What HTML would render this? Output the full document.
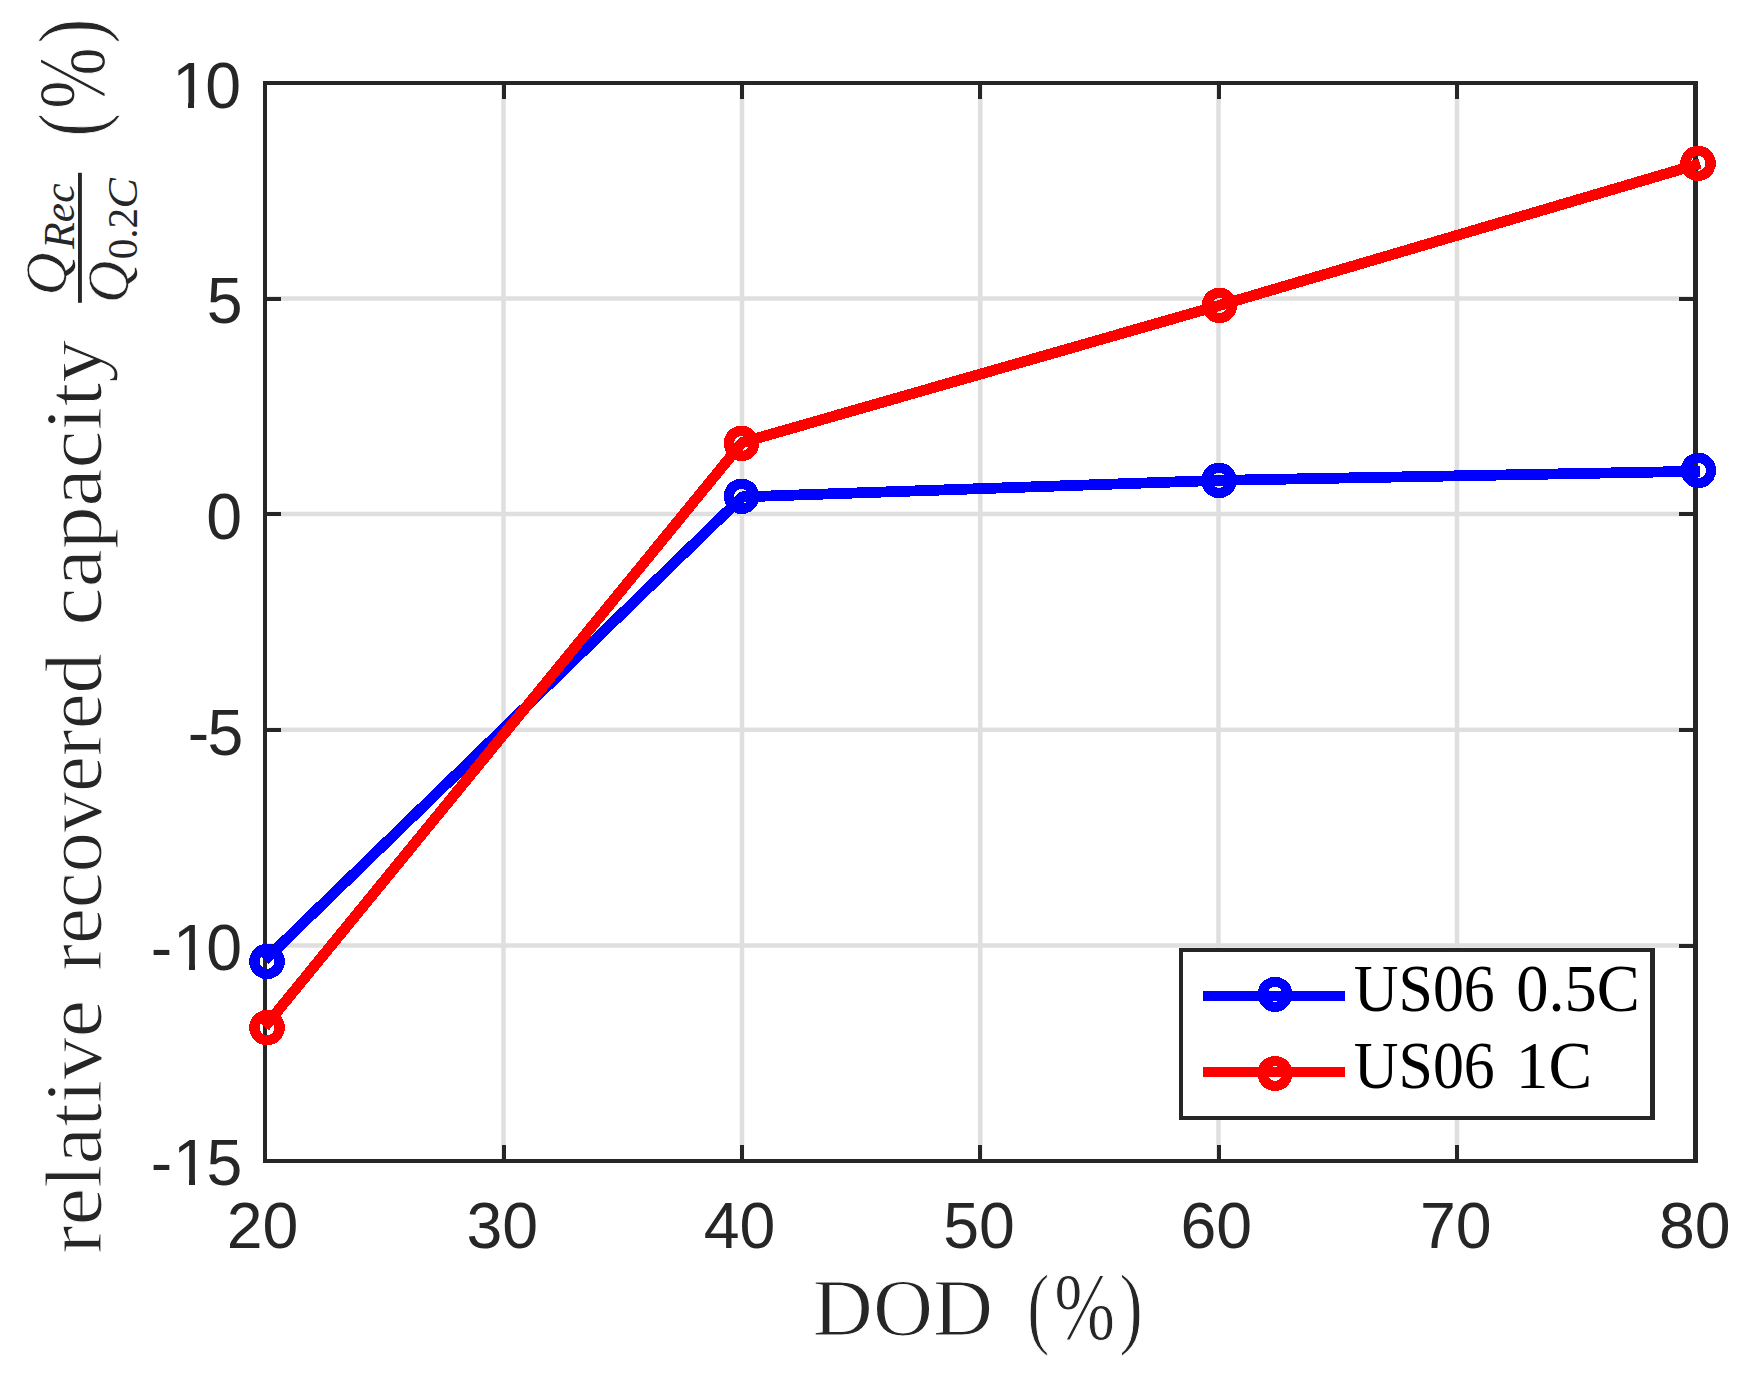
<!DOCTYPE html>
<html lang="en">
<head>
<meta charset="utf-8">
<title>relative recovered capacity vs DOD</title>
<style>
html,body{margin:0;padding:0;background:#fff;}
body{width:1743px;height:1373px;overflow:hidden;}
svg{display:block;}
.tick{font-family:"Liberation Sans",sans-serif;font-size:64.4px;fill:#262626;}
.ser{font-family:"Liberation Serif",serif;fill:#262626;stroke:#ffffff;stroke-width:1.1px;}
.q{stroke-width:0.6px;}
.sub{stroke:none;}
.leg{font-family:"Liberation Serif",serif;fill:#000;}
</style>
</head>
<body>
<svg width="1743" height="1373" viewBox="0 0 1743 1373">
<rect x="0" y="0" width="1743" height="1373" fill="#ffffff"/>
<!-- grid -->
<g fill="#dfdfdf">
<rect x="501.25" y="85" width="4.5" height="1074"/>
<rect x="739.75" y="85" width="4.5" height="1074"/>
<rect x="978.05" y="85" width="4.5" height="1074"/>
<rect x="1216.25" y="85" width="4.5" height="1074"/>
<rect x="1454.75" y="85" width="4.5" height="1074"/>
<rect x="267" y="296.25" width="1426" height="4.5"/>
<rect x="267" y="511.75" width="1426" height="4.5"/>
<rect x="267" y="727.55" width="1426" height="4.5"/>
<rect x="267" y="943.25" width="1426" height="4.5"/>
</g>
<!-- ticks and axes box -->
<g fill="#262626" shape-rendering="crispEdges">
<rect x="501.5" y="1145" width="4" height="14"/><rect x="501.5" y="85" width="4" height="14"/>
<rect x="740.0" y="1145" width="4" height="14"/><rect x="740.0" y="85" width="4" height="14"/>
<rect x="978.3" y="1145" width="4" height="14"/><rect x="978.3" y="85" width="4" height="14"/>
<rect x="1216.5" y="1145" width="4" height="14"/><rect x="1216.5" y="85" width="4" height="14"/>
<rect x="1455.0" y="1145" width="4" height="14"/><rect x="1455.0" y="85" width="4" height="14"/>
<rect x="267" y="296.5" width="14" height="4"/><rect x="1679" y="296.5" width="14" height="4"/>
<rect x="267" y="512.0" width="14" height="4"/><rect x="1679" y="512.0" width="14" height="4"/>
<rect x="267" y="727.8" width="14" height="4"/><rect x="1679" y="727.8" width="14" height="4"/>
<rect x="267" y="943.5" width="14" height="4"/><rect x="1679" y="943.5" width="14" height="4"/>
<rect x="263" y="81" width="4" height="1082"/>
<rect x="1693" y="81" width="5" height="1082"/>
<rect x="263" y="81" width="1435" height="4"/>
<rect x="263" y="1159" width="1435" height="4"/>
</g>
<!-- y tick labels -->
<g class="tick" text-anchor="start">
<text y="108.0"><tspan x="172.20">1</tspan><tspan x="205.35">0</tspan></text>
<text y="323.3"><tspan x="206.65">5</tspan></text>
<text y="539.2"><tspan x="206.35">0</tspan></text>
<text y="755.0"><tspan x="187.65">-</tspan><tspan x="207.45">5</tspan></text>
<text y="970.3"><tspan x="150.85">-</tspan><tspan x="173.00">1</tspan><tspan x="206.25">0</tspan></text>
<text y="1185.3"><tspan x="150.85">-</tspan><tspan x="173.00">1</tspan><tspan x="206.55">5</tspan></text>
</g>
<!-- trim the base serif of the Liberation Sans "1" to match the plain Helvetica-style "1" -->
<g fill="#ffffff">
<rect x="175.5" y="102.5" width="12.5" height="6.5"/><rect x="194" y="102.5" width="12.5" height="6.5"/>
<rect x="176.5" y="964.5" width="12.5" height="6.5"/><rect x="195" y="964.5" width="12.5" height="6.5"/>
<rect x="176.5" y="1179.5" width="12.5" height="6.5"/><rect x="195" y="1179.5" width="12.5" height="6.5"/>
</g>
<!-- x tick labels -->
<g class="tick" text-anchor="middle">
<text x="262.5" y="1248.3">20</text>
<text x="502.2" y="1248.3">30</text>
<text x="739.6" y="1248.3">40</text>
<text x="979.1" y="1248.3">50</text>
<text x="1216.2" y="1248.3">60</text>
<text x="1455.7" y="1248.3">70</text>
<text x="1694.7" y="1248.3">80</text>
</g>
<!-- data series -->
<g stroke="#0000ff" stroke-width="10.2" fill="none" shape-rendering="crispEdges" stroke-linejoin="round">
<polyline points="264.6,960.4 742.2,496.9 1219,480.4 1700,471.2" stroke-width="10.8"/>
<polygon points="279.50,963.89 277.60,968.48 274.08,972.00 269.49,973.90 264.51,973.90 259.92,972.00 256.40,968.48 254.50,963.89 254.50,958.91 256.40,954.32 259.92,950.80 264.51,948.90 269.49,948.90 274.08,950.80 277.60,954.32 279.50,958.91"/>
<polygon points="754.00,498.79 752.10,503.38 748.58,506.90 743.99,508.80 739.01,508.80 734.42,506.90 730.90,503.38 729.00,498.79 729.00,493.81 730.90,489.22 734.42,485.70 739.01,483.80 743.99,483.80 748.58,485.70 752.10,489.22 754.00,493.81"/>
<polygon points="1231.50,482.89 1229.60,487.48 1226.08,491.00 1221.49,492.90 1216.51,492.90 1211.92,491.00 1208.40,487.48 1206.50,482.89 1206.50,477.91 1208.40,473.32 1211.92,469.80 1216.51,467.90 1221.49,467.90 1226.08,469.80 1229.60,473.32 1231.50,477.91"/>
<polygon points="1710.90,472.89 1709.00,477.48 1705.48,481.00 1700.89,482.90 1695.91,482.90 1691.32,481.00 1687.80,477.48 1685.90,472.89 1685.90,467.91 1687.80,463.32 1691.32,459.80 1695.91,457.90 1700.89,457.90 1705.48,459.80 1709.00,463.32 1710.90,467.91"/>
</g>
<g stroke="#ff0000" stroke-width="10.2" fill="none" shape-rendering="crispEdges" stroke-linejoin="round">
<polyline points="264.6,1027.0 742.2,442.5 1219.5,305.4 1700,163.7" stroke-width="10.8"/>
<polygon points="279.50,1030.09 277.60,1034.68 274.08,1038.20 269.49,1040.10 264.51,1040.10 259.92,1038.20 256.40,1034.68 254.50,1030.09 254.50,1025.11 256.40,1020.52 259.92,1017.00 264.51,1015.10 269.49,1015.10 274.08,1017.00 277.60,1020.52 279.50,1025.11"/>
<polygon points="754.00,445.89 752.10,450.48 748.58,454.00 743.99,455.90 739.01,455.90 734.42,454.00 730.90,450.48 729.00,445.89 729.00,440.91 730.90,436.32 734.42,432.80 739.01,430.90 743.99,430.90 748.58,432.80 752.10,436.32 754.00,440.91"/>
<polygon points="1232.00,307.89 1230.10,312.48 1226.58,316.00 1221.99,317.90 1217.01,317.90 1212.42,316.00 1208.90,312.48 1207.00,307.89 1207.00,302.91 1208.90,298.32 1212.42,294.80 1217.01,292.90 1221.99,292.90 1226.58,294.80 1230.10,298.32 1232.00,302.91"/>
<polygon points="1710.50,165.79 1708.60,170.38 1705.08,173.90 1700.49,175.80 1695.51,175.80 1690.92,173.90 1687.40,170.38 1685.50,165.79 1685.50,160.81 1687.40,156.22 1690.92,152.70 1695.51,150.80 1700.49,150.80 1705.08,152.70 1708.60,156.22 1710.50,160.81"/>
</g>
<!-- legend -->
<rect x="1181" y="950" width="472" height="168" fill="#ffffff"/>
<g fill="#262626" shape-rendering="crispEdges">
<rect x="1179" y="948" width="476" height="4"/>
<rect x="1179" y="1116" width="476" height="4"/>
<rect x="1179" y="948" width="4" height="172"/>
<rect x="1650" y="948" width="5" height="172"/>
</g>
<g stroke-width="10" fill="none" shape-rendering="crispEdges" stroke-linejoin="round">
<line x1="1203" y1="996" x2="1345" y2="996" stroke="#0000ff"/>
<polygon points="1287.40,996.87 1285.51,1001.42 1282.02,1004.91 1277.47,1006.80 1272.53,1006.80 1267.98,1004.91 1264.49,1001.42 1262.60,996.87 1262.60,991.93 1264.49,987.38 1267.98,983.89 1272.53,982.00 1277.47,982.00 1282.02,983.89 1285.51,987.38 1287.40,991.93" stroke="#0000ff"/>
<line x1="1203" y1="1072" x2="1345" y2="1072" stroke="#ff0000"/>
<polygon points="1287.40,1075.97 1285.51,1080.52 1282.02,1084.01 1277.47,1085.90 1272.53,1085.90 1267.98,1084.01 1264.49,1080.52 1262.60,1075.97 1262.60,1071.03 1264.49,1066.48 1267.98,1062.99 1272.53,1061.10 1277.47,1061.10 1282.02,1062.99 1285.51,1066.48 1287.40,1071.03" stroke="#ff0000"/>
</g>
<text class="leg"><tspan x="1353.76" y="1011.30" font-size="67" textLength="141.09" lengthAdjust="spacingAndGlyphs">US06</tspan> <tspan x="1516.14" y="1011.30" font-size="67" textLength="123.71" lengthAdjust="spacingAndGlyphs">0.5C</tspan></text>
<text class="leg"><tspan x="1353.76" y="1087.50" font-size="67" textLength="141.09" lengthAdjust="spacingAndGlyphs">US06</tspan> <tspan x="1515.84" y="1087.50" font-size="67" textLength="76.36" lengthAdjust="spacingAndGlyphs">1C</tspan></text>
<!-- x label -->
<text class="ser"><tspan x="812.82" y="1335.20" font-size="80.5" textLength="180.27" lengthAdjust="spacingAndGlyphs">DOD</tspan> <tspan x="1027.34" y="1336.90" font-size="90" textLength="22.12" lengthAdjust="spacingAndGlyphs">(</tspan><tspan x="1054.31" y="1339.40" font-size="96" textLength="60.91" lengthAdjust="spacingAndGlyphs">%</tspan><tspan x="1119.17" y="1336.90" font-size="90" textLength="23.69" lengthAdjust="spacingAndGlyphs">)</tspan></text>
<!-- y label (rotated) -->
<g transform="translate(100.9,1252) rotate(-90)">
<text class="ser"><tspan x="-1.69" y="0.00" font-size="79.5" textLength="253.86" lengthAdjust="spacingAndGlyphs">relative</tspan> <tspan x="281.19" y="0.00" font-size="79.5" textLength="317.52" lengthAdjust="spacingAndGlyphs">recovered</tspan> <tspan x="626.60" y="0.00" font-size="79.5" textLength="285.50" lengthAdjust="spacingAndGlyphs">capacity</tspan></text>
<text class="ser"><tspan class="q" x="956.44" y="-34.90" font-size="59" font-style="italic" textLength="42.77" lengthAdjust="spacingAndGlyphs">Q</tspan><tspan class="sub" x="1003.24" y="-27.40" font-size="43.5" font-style="italic" textLength="65.25" lengthAdjust="spacingAndGlyphs">Rec</tspan></text>
<text class="ser"><tspan class="q" x="948.89" y="26.80" font-size="59" font-style="italic" textLength="42.11" lengthAdjust="spacingAndGlyphs">Q</tspan><tspan class="sub" x="992.66" y="35.60" font-size="42" textLength="51.51" lengthAdjust="spacingAndGlyphs">0.2</tspan><tspan class="sub" x="1043.49" y="35.60" font-size="42" font-style="italic" textLength="30.41" lengthAdjust="spacingAndGlyphs">C</tspan></text>
<text class="ser"><tspan x="1115.59" y="0.50" font-size="90" textLength="23.37" lengthAdjust="spacingAndGlyphs">(</tspan><tspan x="1142.97" y="2.60" font-size="95.5" textLength="61.88" lengthAdjust="spacingAndGlyphs">%</tspan><tspan x="1208.22" y="0.50" font-size="90" textLength="25.36" lengthAdjust="spacingAndGlyphs">)</tspan></text>
<rect x="949.2" y="-22.9" width="130" height="3.9" fill="#262626"/>
</g>
</svg>
</body>
</html>
